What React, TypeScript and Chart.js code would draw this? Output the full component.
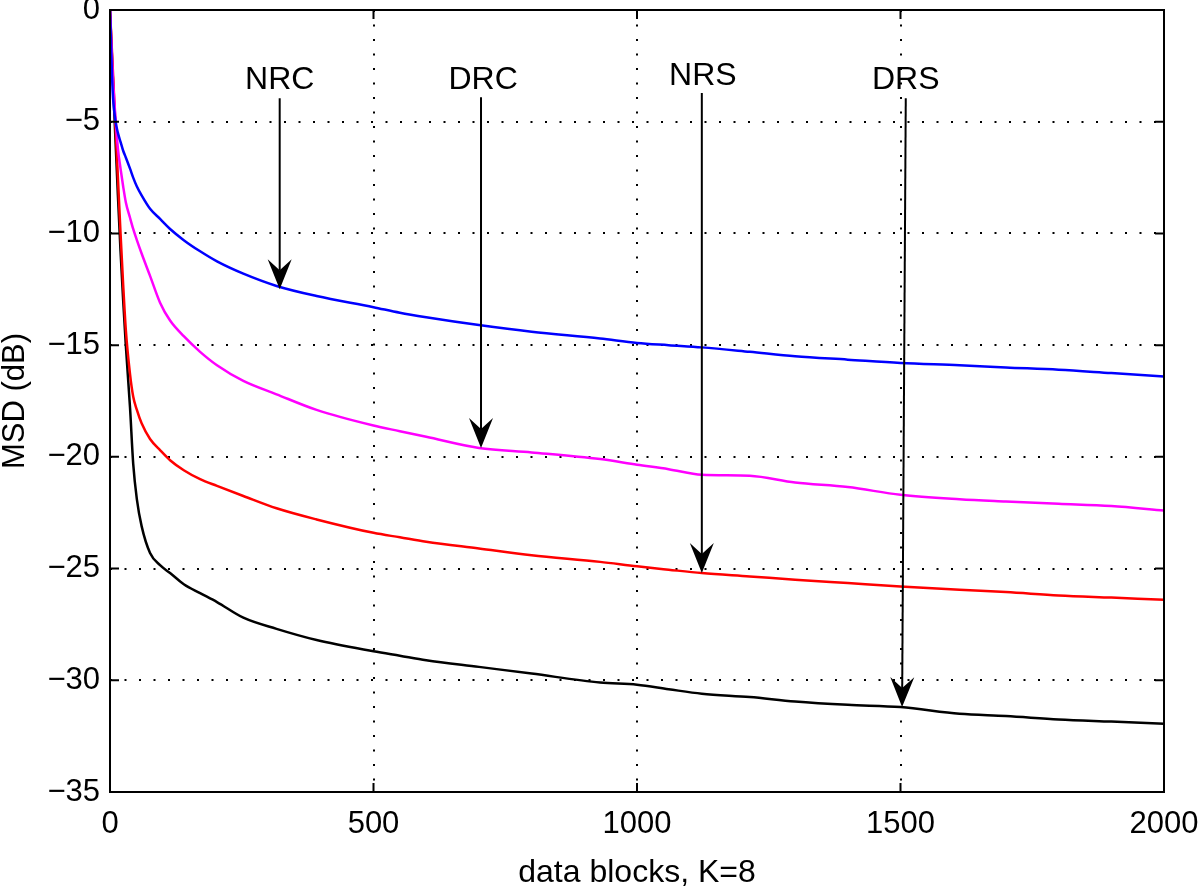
import React, { useEffect, useRef } from 'react';
import { Chart, registerables } from 'chart.js';

Chart.register(...registerables);

// ---- data ----
const blocks = [0, 5, 10, 15, 20, 25, 30, 38, 44, 51, 60, 76, 95, 114, 140, 171, 203, 253, 316, 392, 500, 550, 600, 700, 800, 930, 1000, 1060, 1123, 1214, 1300, 1400, 1500, 1612, 1700, 1800, 1900, 2000];

const nrc = [0, -3.6, -4.9, -5.5, -5.9, -6.3, -6.6, -7.1, -7.5, -7.9, -8.3, -8.9, -9.35, -9.8, -10.3, -10.8, -11.25, -11.8, -12.35, -12.8, -13.3, -13.55, -13.75, -14.1, -14.4, -14.7, -14.9, -15.0, -15.1, -15.3, -15.5, -15.65, -15.8, -15.9, -16.0, -16.1, -16.25, -16.4];

const drc = [0, -2.8, -4.7, -6.2, -7.1, -7.9, -8.6, -9.3, -9.8, -10.3, -10.9, -11.9, -13.1, -13.9, -14.6, -15.3, -15.9, -16.6, -17.2, -17.9, -18.6, -18.85, -19.1, -19.6, -19.8, -20.1, -20.35, -20.55, -20.8, -20.85, -21.15, -21.35, -21.7, -21.9, -22.0, -22.1, -22.2, -22.4];

const nrs = [0, -2.5, -5, -7.5, -10, -12.3, -14.3, -16.3, -17.3, -17.9, -18.5, -19.2, -19.7, -20.15, -20.6, -21.0, -21.3, -21.75, -22.3, -22.8, -23.4, -23.6, -23.8, -24.1, -24.4, -24.7, -24.9, -25.05, -25.2, -25.35, -25.5, -25.65, -25.8, -25.95, -26.05, -26.2, -26.3, -26.4];

const drs = [0, -2.8, -5.6, -8.3, -10.8, -13.0, -15.0, -17.8, -20.3, -21.9, -23.1, -24.3, -24.85, -25.2, -25.7, -26.1, -26.5, -27.2, -27.7, -28.2, -28.7, -28.9, -29.1, -29.4, -29.7, -30.1, -30.2, -30.4, -30.6, -30.75, -30.95, -31.1, -31.2, -31.5, -31.6, -31.75, -31.85, -31.95];

const seriesNames = ['NRC', 'DRC', 'NRS', 'DRS'];
const seriesColors = ['#0000ff', '#ff00ff', '#ff0000', '#000000'];

const xTicks = [0, 500, 1000, 1500, 2000];
const yTicks = [0, -5, -10, -15, -20, -25, -30, -35];

const xTitle = 'data blocks, K=8';
const yTitle = 'MSD (dB)';

// annotations (arrows with labels), in data units
const annLabels = ['NRC', 'DRC', 'NRS', 'DRS'];
const annTextX = [322, 708, 1125, 1510];
const annTextY = [-3.15, -3.15, -2.95, -3.15];
const annStartX = [322, 704, 1123, 1510];
const annStartY = [-3.95, -3.9, -3.72, -3.95];
const annTipX = [322, 704, 1123, 1503];
const annTipY = [-12.5, -19.6, -25.2, -31.2];

const FONT = '"Liberation Sans", Arial, Helvetica, sans-serif';

const framePlugin = {
  id: 'matlabFrame',
  afterDatasetsDraw(chart: any) {
    const { ctx, chartArea } = chart;
    const { left, right, top, bottom } = chartArea;
    const xs = chart.scales.x;
    const ys = chart.scales.y;
    ctx.save();
    ctx.strokeStyle = '#000';
    ctx.lineWidth = 2;
    ctx.strokeRect(left, top, right - left, bottom - top);
    const tl = 9;
    ctx.beginPath();
    xTicks.forEach((v) => {
      const px = xs.getPixelForValue(v);
      ctx.moveTo(px, bottom);
      ctx.lineTo(px, bottom - tl);
      ctx.moveTo(px, top);
      ctx.lineTo(px, top + tl);
    });
    yTicks.forEach((v) => {
      const py = ys.getPixelForValue(v);
      ctx.moveTo(left, py);
      ctx.lineTo(left + tl, py);
      ctx.moveTo(right, py);
      ctx.lineTo(right - tl, py);
    });
    ctx.stroke();

    // annotations
    ctx.fillStyle = '#000';
    ctx.font = `32px ${FONT}`;
    ctx.textAlign = 'center';
    ctx.textBaseline = 'middle';
    annLabels.forEach((label, i) => {
      const txp = xs.getPixelForValue(annTextX[i]);
      const typ = ys.getPixelForValue(annTextY[i]);
      ctx.fillText(label, txp, typ);
      const sx = xs.getPixelForValue(annStartX[i]);
      const sy = ys.getPixelForValue(annStartY[i]);
      const tx = xs.getPixelForValue(annTipX[i]);
      const ty = ys.getPixelForValue(annTipY[i]);
      const ang = Math.atan2(ty - sy, tx - sx);
      const headLen = 30;
      const notch = 19;
      const halfW = 12;
      const ux = Math.cos(ang);
      const uy = Math.sin(ang);
      const nx = -uy;
      const ny = ux;
      ctx.lineWidth = 2;
      ctx.beginPath();
      ctx.moveTo(sx, sy);
      ctx.lineTo(tx - ux * notch, ty - uy * notch);
      ctx.stroke();
      ctx.beginPath();
      ctx.moveTo(tx, ty);
      ctx.lineTo(tx - ux * headLen + nx * halfW, ty - uy * headLen + ny * halfW);
      ctx.lineTo(tx - ux * notch, ty - uy * notch);
      ctx.lineTo(tx - ux * headLen - nx * halfW, ty - uy * headLen - ny * halfW);
      ctx.closePath();
      ctx.fill();
    });
    ctx.restore();
  },
};

export default function App() {
  const ref = useRef<HTMLCanvasElement | null>(null);

  useEffect(() => {
    document.body.style.margin = '0';
    const canvas = ref.current;
    if (!canvas) return;
    const seriesValues = [nrc, drc, nrs, drs];
    const chart = new Chart(canvas, {
      type: 'line',
      data: {
        datasets: seriesNames.map((name, i) => ({
          label: name,
          data: blocks.map((b, j) => ({ x: b, y: seriesValues[i][j] })),
          borderColor: seriesColors[i],
          backgroundColor: seriesColors[i],
          borderWidth: 2.5,
          pointRadius: 0,
          fill: false,
          cubicInterpolationMode: 'monotone' as const,
        })),
      },
      options: {
        responsive: false,
        animation: false,
        devicePixelRatio: 1,
        layout: { padding: { top: 10, right: 36, left: 0, bottom: 0 } },
        plugins: {
          legend: { display: false },
          tooltip: { enabled: false },
        },
        scales: {
          x: {
            type: 'linear',
            min: 0,
            max: 2000,
            afterBuildTicks: (s: any) => {
              s.ticks = xTicks.map((v) => ({ value: v }));
            },
            afterFit: (s: any) => {
              s.height = 94;
              s.paddingLeft = 0;
              s.paddingRight = 0;
            },
            grid: {
              color: '#000',
              lineWidth: 2,
              drawTicks: false,
            },
            border: { display: false, dash: [2, 12.5] },
            ticks: {
              color: '#000',
              padding: 14,
              maxRotation: 0,
              autoSkip: false,
              font: { family: FONT, size: 31 },
              callback: (v: any) => String(v),
            },
            title: {
              display: true,
              text: xTitle,
              color: '#000',
              padding: { top: 0, bottom: -3 },
              font: { family: FONT, size: 32, lineHeight: 1 },
            },
          },
          y: {
            type: 'linear',
            min: -35,
            max: 0,
            afterBuildTicks: (s: any) => {
              s.ticks = yTicks.map((v) => ({ value: v }));
            },
            afterFit: (s: any) => {
              s.width = 110;
              s.paddingTop = 0;
              s.paddingBottom = 0;
            },
            grid: {
              color: '#000',
              lineWidth: 2,
              drawTicks: false,
            },
            border: { display: false, dash: [2, 12.5] },
            ticks: {
              color: '#000',
              padding: 10,
              autoSkip: false,
              font: { family: FONT, size: 31 },
              callback: (v: any) => (v < 0 ? '\u2212' + Math.abs(v) : String(v)),
            },
            title: {
              display: true,
              text: yTitle,
              color: '#000',
              padding: 0,
              font: { family: FONT, size: 31, lineHeight: 1 },
            },
          },
        },
      },
      plugins: [framePlugin],
    });
    return () => chart.destroy();
  }, []);

  return (
    <div style={{ position: 'absolute', left: 0, top: 0, width: 1200, height: 886, background: '#fff' }}>
      <canvas ref={ref} width={1200} height={886} style={{ display: 'block' }} />
    </div>
  );
}
